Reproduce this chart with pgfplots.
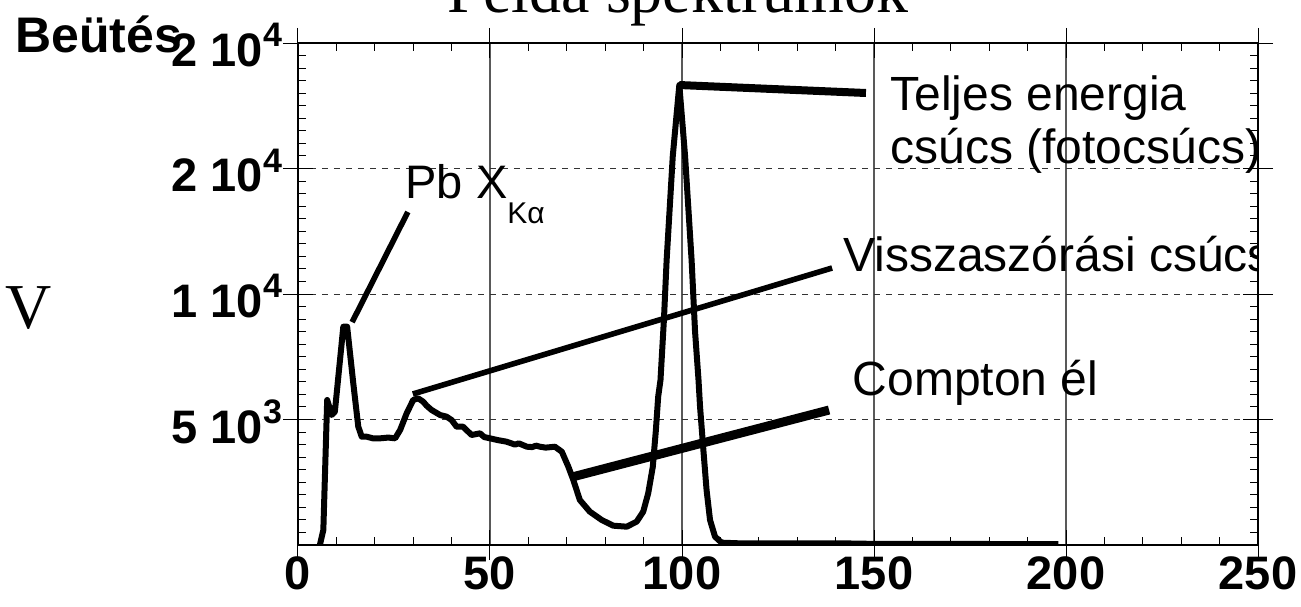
\documentclass[border=0pt]{standalone}
\usepackage{pgfplots}
\pgfplotsset{compat=1.18}
\usepackage{pgfplotstable}
\usepackage{fontspec}
\setmainfont{Liberation Sans}
\newfontfamily\seriffont{Liberation Serif}

\pgfplotstableread{
x y
5.7 0
6.6 600
7.6 5777
8.8 5180
9.6 5311
11.8 8697
12.8 8697
14.4 6440
15.7 4713
16.6 4315
17.9 4315
19.5 4250
21.4 4250
23.5 4280
25.3 4250
26.6 4582
28.3 5247
30.0 5777
31.3 5843
32.6 5710
33.5 5550
34.8 5378
37.0 5180
38.7 5112
40.0 4980
41.3 4713
43.0 4713
45.2 4382
47.4 4450
48.5 4300
50.0 4250
52.0 4180
54.3 4117
56.5 4000
57.5 4050
59.6 3916
61.0 3900
62.0 3960
63.0 3916
64.5 3880
66.9 3916
68.7 3717
70.4 3120
71.7 2590
73.4 1793
76.0 1328
79.1 996
82.1 770
85.6 730
88.2 930
89.9 1328
91.2 2060
92.4 3120
93.2 4582
93.8 5910
94.4 6574
95.3 9000
96.0 11354
97.6 15500
99.3 18326
100.8 15500
102.5 11354
103.4 8500
104.3 6574
104.7 5510
105.5 3916
106.4 2191
107.3 996
108.6 332
110.3 93
115.1 66
130 60
140 70
150 45
160 50
170 40
180 40
190 35
198 35
}\spectrum

\newcommand{\sci}[2]{#1~10\raisebox{0.42em}{\fontsize{17}{17}\selectfont #2}}

\begin{document}
\begin{tikzpicture}
\begin{axis}[
  at={(0,0)}, anchor=south west,
  scale only axis, width=480pt, height=251pt,
  xmin=0, xmax=250, ymin=0, ymax=20000,
  xtick={0,50,100,150,200,250},
  xticklabels={0,50,100,150,200,250},
  ytick={5000,10000,15000,20000},
  yticklabels={\sci{5}{3},\sci{1}{4},\sci{2}{4},\sci{2}{4}},
  scaled ticks=false,
  tick align=center, major tick length=15pt,
  tick style={black, line width=0.5pt},
  xmajorgrids, ymajorgrids,
  x grid style={black!65, line width=0.6pt, solid},
  y grid style={black!80, line width=0.5pt, dash pattern=on 3pt off 3pt},
  axis line style={black, line width=0.6pt},
  extra x ticks={0,10,...,250}, extra x tick labels={},
  extra x tick style={grid=none, tick align=inside, major tick length=4pt},
  extra y ticks={0,500,...,20000}, extra y tick labels={},
  extra y tick style={grid=none, tick align=inside, major tick length=4pt},
  ticklabel style={font=\fontsize{23.5}{23.5}\selectfont\bfseries},
  xticklabel style={yshift=5pt},
  yticklabel style={xshift=3pt, yshift=-1pt},
]
\addplot[black, line width=3pt, line join=round] table[x=x,y=y]{\spectrum};
% annotation pointer lines
\addplot[black, line width=2.8pt] coordinates {(14.1,8880) (28.6,13267)};
\addplot[black, line width=2.8pt] coordinates {(29.9,6016) (139.1,11036)};
\addplot[black, line width=4.5pt] coordinates {(71.4,2709) (138.3,5378)};
\addplot[black, line width=4pt] coordinates {(99.3,18326) (147.9,18008)};
% annotation texts
\node[anchor=base west, inner sep=0pt, font=\fontsize{24}{24}\selectfont] at (axis cs:154.2,17330) {Teljes energia};
\node[anchor=base west, inner sep=0pt, font=\fontsize{24}{24}\selectfont] at (axis cs:154.2,15219) {csúcs (fotocsúcs)};
\node[anchor=base west, inner sep=0pt, font=\fontsize{24}{24}\selectfont] at (axis cs:141.9,10889) {Visszaszórási csúcs};
\node[anchor=base west, inner sep=0pt, font=\fontsize{24}{24}\selectfont] at (axis cs:144.4,5976) {Compton él};
\node[anchor=base west, inner sep=0pt, font=\fontsize{23.5}{23.5}\selectfont] at (axis cs:27.9,13785) {Pb X\raisebox{-12pt}{\fontsize{15}{15}\selectfont Kα}};
\end{axis}
\node[anchor=base, inner sep=0pt, font=\seriffont\fontsize{32}{32}\selectfont] at (190pt,266.25pt) {Példa spektrumok};
\node[anchor=base west, inner sep=0pt, font=\seriffont\fontsize{32}{32}\selectfont] at (-146.5pt,108.5pt) {V};
\node[anchor=base west, inner sep=0pt, font=\fontsize{25}{25}\selectfont\bfseries] at (-141.5pt,246pt) {Beütés};
\pgfresetboundingbox
\path[use as bounding box] (-149pt,-30.5pt) rectangle (501.5pt,272.5pt);
\end{tikzpicture}
\end{document}
